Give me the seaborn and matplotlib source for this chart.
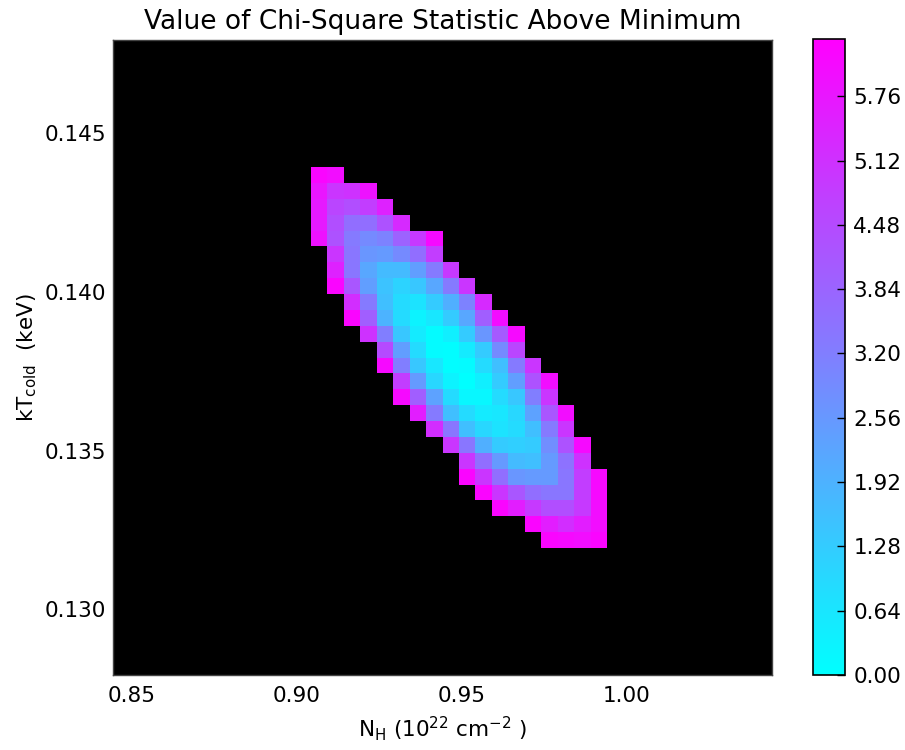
import numpy as np
import pandas as pd
import matplotlib
matplotlib.use("Agg")
import matplotlib.pyplot as plt
import seaborn as sns

# ---- grid description ----
N_COLS = 40
N_ROWS = 40
X_LEFT = 0.8442      # NH value at left edge of the grid
X_STEP = 0.005
Y_TOP = 0.14793      # kT value at top edge of the grid
Y_STEP = 0.0005

X_TICKS = [0.85, 0.90, 0.95, 1.00]
Y_TICKS = [0.130, 0.135, 0.140, 0.145]
CBAR_TICKS = [0.00, 0.64, 1.28, 1.92, 2.56, 3.20, 3.84, 4.48, 5.12, 5.76]
VMAX = 6.33

TITLE = "Value of Chi-Square Statistic Above Minimum"
XLABEL = r"N$_{H}$ (10$^{22}$ cm$^{-2}$ )"
YLABEL = r"kT$_{cold}$  (keV)"

# ---- delta chi-square values, rows from top (row index 8 .. 31) ----
FIRST_ROW = 8
ROW_START_COL = [12, 12, 12, 12, 12, 13, 13, 13, 14, 14, 15, 16,
                 16, 17, 17, 18, 19, 20, 21, 21, 22, 23, 25, 26]
ROW_VALUES = [
    [6.2, 6.0],
    [5.8, 5.0, 5.1, 5.9],
    [5.7, 4.6, 4.4, 4.8, 5.5],
    [5.7, 4.4, 3.6, 3.6, 4.3, 5.3],
    [5.9, 4.3, 3.3, 2.9, 3.1, 3.9, 4.9, 6.1],
    [5.0, 3.4, 2.6, 2.5, 2.9, 3.6, 4.8],
    [5.5, 3.4, 2.2, 1.7, 1.7, 2.4, 3.3, 4.9],
    [6.2, 4.2, 2.4, 1.5, 1.1, 1.4, 2.2, 3.3, 5.0],
    [5.2, 3.3, 1.6, 0.9, 0.7, 1.3, 2.0, 3.1, 5.3],
    [6.2, 4.0, 1.9, 0.9, 0.3, 0.6, 1.3, 2.2, 4.0, 6.0],
    [5.1, 3.2, 1.4, 0.5, 0.1, 0.4, 1.3, 2.6, 4.1, 6.1],
    [4.5, 2.4, 0.9, 0.1, 0.05, 0.5, 1.3, 2.9, 4.6],
    [6.1, 3.2, 1.4, 0.6, 0.05, 0.1, 0.9, 1.6, 3.3, 5.0],
    [4.8, 2.5, 1.0, 0.3, 0.0, 0.4, 1.3, 2.4, 4.3, 6.0],
    [6.1, 4.0, 2.3, 0.9, 0.2, 0.2, 0.9, 1.4, 3.2, 5.0],
    [5.6, 3.3, 1.6, 0.9, 0.5, 0.6, 1.0, 2.3, 4.2, 6.0],
    [5.2, 3.4, 1.6, 1.0, 0.7, 0.9, 1.6, 3.3, 5.0],
    [5.0, 3.4, 2.0, 1.3, 1.2, 1.3, 2.8, 4.3, 6.1],
    [5.0, 3.6, 2.5, 1.7, 1.6, 2.5, 3.5, 5.1],
    [6.2, 5.0, 3.6, 2.6, 2.5, 2.5, 3.4, 4.8, 6.1],
    [6.2, 5.0, 4.2, 3.6, 3.4, 3.4, 4.8, 6.1],
    [6.2, 5.6, 4.9, 4.4, 4.4, 4.9, 6.0],
    [6.2, 5.6, 5.2, 5.6, 6.0],
    [6.2, 6.1, 6.0, 6.2],
]

grid = np.full((N_ROWS, N_COLS), np.nan)
for i, (c0, vals) in enumerate(zip(ROW_START_COL, ROW_VALUES)):
    grid[FIRST_ROW + i, c0:c0 + len(vals)] = vals
df = pd.DataFrame(grid)

plt.rcParams["mathtext.default"] = "regular"
plt.rcParams["font.family"] = ["DejaVu Sans"]

W, H = 905, 750
fig = plt.figure(figsize=(W / 100, H / 100), dpi=100)
ax = fig.add_axes([113 / W, 1 - 675 / H, 659 / W, 635 / H])
cax = fig.add_axes([813 / W, 1 - 675 / H, 32 / W, 636 / H])

sns.heatmap(df, ax=ax, cbar_ax=cax, cmap="cool", vmin=0, vmax=VMAX,
            xticklabels=False, yticklabels=False)
ax.set_facecolor("black")
ax.set_xlim(0, N_COLS)
ax.set_ylim(N_ROWS, 0)

ax.set_xticks([(v - X_LEFT) / X_STEP for v in X_TICKS])
ax.set_xticklabels([f"{v:.2f}" for v in X_TICKS], rotation=0, fontsize=15.5)
ax.set_yticks([(Y_TOP - v) / Y_STEP for v in Y_TICKS])
ax.set_yticklabels([f"{v:.3f}" for v in Y_TICKS], rotation=0, fontsize=15.5)
ax.tick_params(axis="x", direction="in", length=6, color="black", pad=8)
ax.tick_params(axis="y", direction="in", length=6, color="black", pad=5)
for s in ax.spines.values():
    s.set_visible(True)
    s.set_color("#444444")
    s.set_linewidth(1.0)

ax.set_title(TITLE, fontsize=19, pad=8)
ax.set_xlabel(XLABEL, fontsize=15.5, labelpad=6)
ax.set_ylabel(YLABEL, fontsize=15.5, labelpad=4)

cb = ax.collections[0].colorbar
cb.set_ticks(CBAR_TICKS)
cb.set_ticklabels([f"{v:.2f}" for v in CBAR_TICKS])
cb.outline.set_visible(True)
cb.outline.set_linewidth(1.2)
cb.outline.set_edgecolor("black")
cax.tick_params(direction="in", length=6, width=1, color="black",
                labelsize=15.5, pad=6)

fig.savefig("out.png", dpi=100, facecolor="white")
